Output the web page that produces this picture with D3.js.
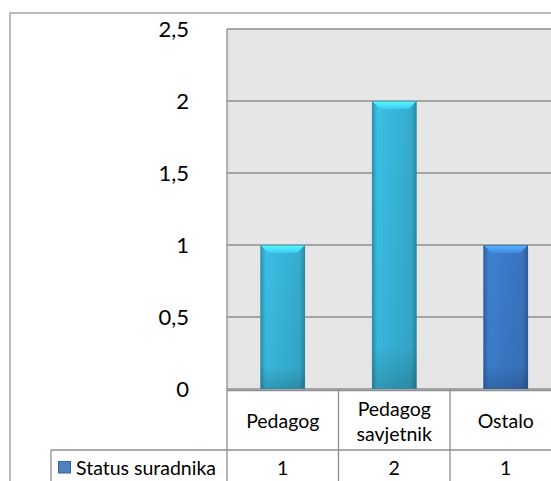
<!DOCTYPE html>
<html><head><meta charset="utf-8">
<script src="https://cdn.jsdelivr.net/npm/d3@7"></script>
<style>body{margin:0;background:#fff}svg{display:block}</style>
</head><body>
<script>
const categories = [["Pedagog"], ["Pedagog", "savjetnik"], ["Ostalo"]];
const values = [1, 2, 1];
const seriesName = "Status suradnika";
const yTicks = [0, 0.5, 1, 1.5, 2, 2.5];
const yTickLabels = ["0", "0,5", "1", "1,5", "2", "2,5"];
const barColors = ["#38b5d9", "#38b5d9", "#3b7ac8"];

const W = 551, H = 481;
const font = "Lato, 'Open Sans', sans-serif";
const svg = d3.select("body").append("svg").attr("width", W).attr("height", H);
const defs = svg.append("defs");

const plotL = 227, plotT = 29, plotB = 389, colW = 111.5;
const plotR = plotL + colW * categories.length;
const x = d3.scaleBand().domain(d3.range(categories.length)).range([plotL, plotR]).paddingInner(0.6).paddingOuter(0.3);
const y = d3.scaleLinear().domain([0, 2.5]).range([plotB, plotT]);

// outer chart border
svg.append("rect").attr("x", 10).attr("y", 13).attr("width", W + 20).attr("height", H + 20)
  .attr("fill", "#fff").attr("stroke", "#8c8c8c").attr("stroke-width", 1.2);

// plot area
svg.append("rect").attr("x", plotL).attr("y", plotT).attr("width", plotR - plotL).attr("height", plotB - plotT)
  .attr("fill", "#e6e6e6");

// gridlines
svg.append("g").selectAll("line").data(yTicks).join("line")
  .attr("x1", plotL).attr("x2", plotR).attr("y1", d => y(d)).attr("y2", d => y(d))
  .attr("stroke", "#8f8f8f").attr("stroke-width", 1.3);
svg.append("line").attr("x1", plotL).attr("x2", plotL).attr("y1", plotT).attr("y2", H)
  .attr("stroke", "#8f8f8f").attr("stroke-width", 1.3);

// y axis labels
const yAxis = d3.axisLeft(y).tickValues(yTicks).tickFormat((d, i) => yTickLabels[i]).tickSize(0).tickPadding(0);
const ya = svg.append("g").attr("transform", "translate(189,0)").call(yAxis);
ya.select(".domain").remove();
ya.selectAll("text").attr("font-family", font).attr("font-size", 22).attr("fill", "#000");

// gradients for bars
barColors.forEach((c, i) => {
  const g = defs.append("linearGradient").attr("id", "gh" + i).attr("x1", 0).attr("x2", 1).attr("y1", 0).attr("y2", 0);
  const base = d3.color(c);
  g.append("stop").attr("offset", 0).attr("stop-color", base.darker(0.6));
  g.append("stop").attr("offset", 0.12).attr("stop-color", base.brighter(0.15));
  g.append("stop").attr("offset", 0.5).attr("stop-color", base);
  g.append("stop").attr("offset", 0.88).attr("stop-color", base.darker(0.15));
  g.append("stop").attr("offset", 1).attr("stop-color", base.darker(0.8));
  const gv = defs.append("linearGradient").attr("id", "gv" + i).attr("x1", 0).attr("x2", 0).attr("y1", 0).attr("y2", 1);
  gv.append("stop").attr("offset", 0).attr("stop-color", "#000").attr("stop-opacity", 0);
  gv.append("stop").attr("offset", 0.85).attr("stop-color", "#000").attr("stop-opacity", 0.05);
  gv.append("stop").attr("offset", 1).attr("stop-color", "#000").attr("stop-opacity", 0.2);
  const gt = defs.append("linearGradient").attr("id", "gt" + i).attr("x1", 0).attr("x2", 0).attr("y1", 0).attr("y2", 1);
  gt.append("stop").attr("offset", 0).attr("stop-color", base.brighter(1.1));
  gt.append("stop").attr("offset", 1).attr("stop-color", base.brighter(0.3));
});

const bars = svg.append("g").selectAll("g").data(values).join("g");
const bw = x.bandwidth();
bars.append("rect").attr("x", (d, i) => x(i)).attr("y", d => y(d)).attr("width", bw).attr("height", d => plotB - y(d))
  .attr("fill", (d, i) => `url(#gh${i})`);
bars.append("rect").attr("x", (d, i) => x(i)).attr("y", d => y(d)).attr("width", bw).attr("height", d => plotB - y(d))
  .attr("fill", (d, i) => `url(#gv${i})`);
const bev = 8;
bars.append("polygon").attr("points", (d, i) => {
  const x0 = x(i), x1 = x(i) + bw, t = y(d);
  return `${x0},${t} ${x1},${t} ${x1 - bev},${t + bev} ${x0 + bev},${t + bev}`;
}).attr("fill", (d, i) => `url(#gt${i})`);
bars.append("rect").attr("x", (d, i) => x(i) + 0.5).attr("y", d => y(d) + 0.5).attr("width", bw - 1).attr("height", d => plotB - y(d) - 1)
  .attr("fill", "none").attr("stroke", (d, i) => d3.color(barColors[i]).darker(0.7)).attr("stroke-width", 1).attr("stroke-opacity", 0.6);

// data table
const rowSep = 450;
const tfs = 19.5;
const tbl = svg.append("g");
tbl.append("line").attr("x1", plotL).attr("x2", W).attr("y1", plotB + 1.5).attr("y2", plotB + 1.5).attr("stroke", "#8f8f8f").attr("stroke-width", 1.3);
tbl.append("line").attr("x1", 51).attr("x2", W).attr("y1", rowSep).attr("y2", rowSep).attr("stroke", "#8f8f8f").attr("stroke-width", 1.3);
tbl.append("line").attr("x1", 51).attr("x2", 51).attr("y1", rowSep).attr("y2", H).attr("stroke", "#8f8f8f").attr("stroke-width", 1.3);
tbl.selectAll(".vsep").data(d3.range(1, categories.length + 1)).join("line").attr("class", "vsep")
  .attr("x1", i => plotL + colW * i).attr("x2", i => plotL + colW * i).attr("y1", plotB).attr("y2", H)
  .attr("stroke", "#8f8f8f").attr("stroke-width", 1.3);

const catText = tbl.selectAll(".cat").data(categories).join("text").attr("class", "cat")
  .attr("x", (d, i) => plotL + colW * (i + 0.5)).attr("text-anchor", "middle")
  .attr("font-family", font).attr("font-size", tfs).attr("fill", "#000");
catText.each(function(lines) {
  const t = d3.select(this);
  const cy = (plotB + rowSep) / 2 + 2;
  const lh = 25;
  lines.forEach((l, k) => {
    t.append("tspan").attr("x", t.attr("x")).attr("y", cy + (k - (lines.length - 1) / 2) * lh).attr("dy", "0.35em").text(l);
  });
});

tbl.selectAll(".val").data(values).join("text").attr("class", "val")
  .attr("x", (d, i) => plotL + colW * (i + 0.5)).attr("y", 468).attr("dy", "0.35em").attr("text-anchor", "middle")
  .attr("font-family", font).attr("font-size", tfs).attr("fill", "#000").text(d => d);

// legend key
tbl.append("rect").attr("x", 58.5).attr("y", 461.5).attr("width", 12).attr("height", 11.5)
  .attr("fill", "#4f81bd").attr("stroke", "#3a6496").attr("stroke-width", 1);
tbl.append("text").attr("x", 76).attr("y", 468).attr("dy", "0.35em")
  .attr("font-family", font).attr("font-size", tfs).attr("fill", "#000").text(seriesName);
</script>
</body></html>
